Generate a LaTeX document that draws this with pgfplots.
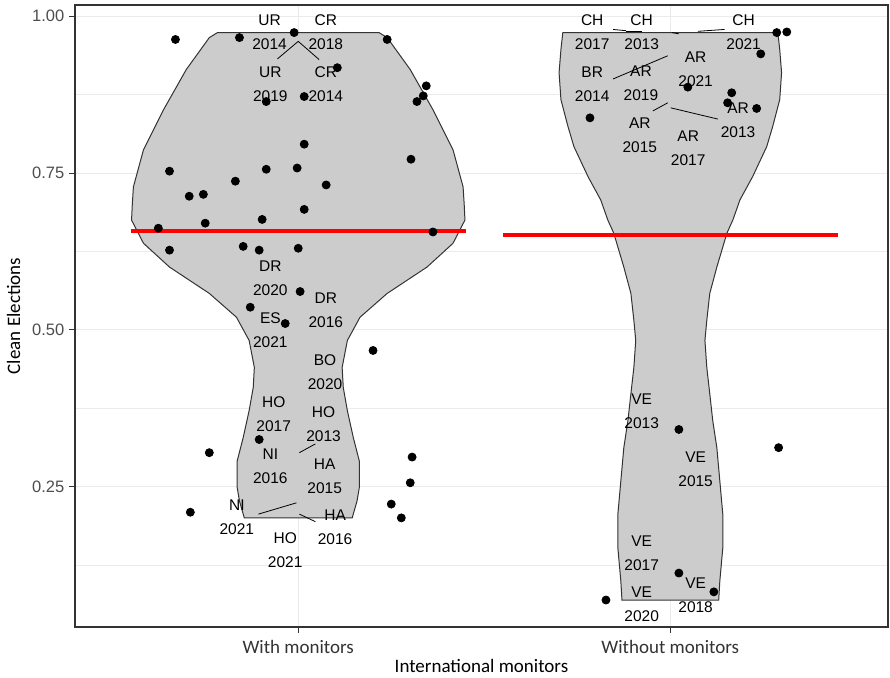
\documentclass[border=0pt]{standalone}
\usepackage{pgfplots}
\pgfplotsset{compat=1.18}
\usepackage{fontspec}
\setmainfont{Liberation Sans}
\newfontfamily\calib{Carlito}
\definecolor{gridc}{HTML}{EBEBEB}
\definecolor{txtc}{HTML}{4D4D4D}
\definecolor{framec}{HTML}{333333}
\definecolor{violinc}{HTML}{CCCCCC}
\tikzset{lbl/.style={font=\fontsize{7.75}{12}\selectfont, align=center, inner sep=0pt, text=black}}
\begin{document}
\begin{tikzpicture}
\begin{axis}[name=ax, scale only axis, width=406.5pt, height=311pt,
  xmin=0.4, xmax=2.585, ymin=0.026, ymax=1.018,
  xtick={1,2}, xticklabels={With monitors, Without monitors},
  ytick={0.25,0.5,0.75,1}, minor ytick={0.125,0.375,0.625,0.875},
  /pgf/number format/assume math mode=true,
  yticklabel style={/pgf/number format/fixed, /pgf/number format/fixed zerofill, /pgf/number format/precision=2,
    font=\fontsize{8.25}{10}\selectfont, text=txtc, inner sep=0pt, xshift=-2.2pt},
  xticklabel style={font=\calib\fontsize{9.5}{11}\selectfont, text=framec, inner sep=0pt, anchor=north, yshift=-3.5pt},
  xmajorgrids, ymajorgrids, yminorgrids,
  major grid style={gridc, line width=0.5pt},
  minor grid style={gridc, line width=0.3pt},
  axis line style={framec, line width=0.6pt},
  tick align=outside, tick pos=left, major tick length=3pt, minor tick length=0pt,
  tick style={framec, line width=0.5pt},
  clip=false,
]
% violins
\addplot[fill=violinc, draw=framec, line width=0.5pt] coordinates {
(1.217,0.974) (1.239,0.966) (1.301,0.915) (1.362,0.851) (1.416,0.787) (1.443,0.728)
(1.446,0.700) (1.448,0.675) (1.416,0.638) (1.346,0.600) (1.239,0.558) (1.166,0.520)
(1.132,0.483) (1.118,0.440) (1.121,0.408) (1.132,0.371) (1.148,0.328) (1.164,0.291)
(1.164,0.248) (1.158,0.227) (1.145,0.200)
(0.855,0.200) (0.842,0.227) (0.836,0.248) (0.836,0.291) (0.852,0.328) (0.868,0.371)
(0.879,0.408) (0.882,0.440) (0.868,0.483) (0.834,0.520) (0.761,0.558) (0.654,0.600)
(0.584,0.638) (0.552,0.675) (0.554,0.700) (0.557,0.728) (0.584,0.787) (0.638,0.851)
(0.699,0.915) (0.761,0.966) (0.783,0.974)
} --cycle;
\addplot[fill=violinc, draw=framec, line width=0.5pt] coordinates {
(2.289,0.974) (2.294,0.947) (2.299,0.910) (2.294,0.867) (2.275,0.824) (2.259,0.792)
(2.221,0.744) (2.187,0.707) (2.168,0.675) (2.152,0.654) (2.125,0.600) (2.106,0.558)
(2.098,0.515) (2.093,0.483) (2.098,0.440) (2.106,0.398) (2.114,0.355) (2.125,0.312)
(2.133,0.259) (2.141,0.206) (2.141,0.152) (2.133,0.099) (2.130,0.069)
(1.870,0.069) (1.867,0.099) (1.859,0.152) (1.859,0.206) (1.867,0.259) (1.875,0.312)
(1.886,0.355) (1.894,0.398) (1.902,0.440) (1.907,0.483) (1.902,0.515) (1.894,0.558)
(1.875,0.600) (1.848,0.654) (1.832,0.675) (1.813,0.707) (1.779,0.744) (1.741,0.792)
(1.725,0.824) (1.706,0.867) (1.701,0.910) (1.706,0.947) (1.711,0.974)
} --cycle;
% points
\addplot[only marks, mark=*, mark size=2pt, black] coordinates {
(0.670,0.963) (0.842,0.966) (0.989,0.974) (1.239,0.963) (1.105,0.918) (1.344,0.889)
(1.336,0.873) (1.319,0.864) (0.914,0.864) (1.016,0.872) (1.016,0.796) (1.303,0.772)
(0.654,0.753) (0.914,0.756) (0.997,0.758) (0.831,0.737) (1.075,0.731) (0.707,0.713)
(0.745,0.716) (1.016,0.692) (0.903,0.676) (0.750,0.670) (0.624,0.662) (1.362,0.656)
(0.654,0.627) (0.852,0.633) (0.895,0.627) (1.000,0.630) (1.005,0.561) (0.871,0.536)
(0.965,0.510) (1.201,0.467) (0.895,0.325) (0.761,0.304) (1.306,0.297) (1.301,0.256)
(1.250,0.222) (0.710,0.209) (1.277,0.200)
(2.286,0.974) (2.313,0.975) (2.243,0.940) (2.047,0.887) (2.165,0.878) (2.154,0.862)
(2.232,0.853) (1.784,0.838) (2.023,0.341) (2.291,0.312) (2.023,0.112) (2.117,0.082)
(1.827,0.069)
};
% mean lines
\addplot[red, line width=1.9pt] coordinates {(0.55,0.657) (1.45,0.657)};
\addplot[red, line width=1.9pt] coordinates {(1.55,0.651) (2.45,0.651)};
% label segments
\addplot[black, line width=0.4pt] coordinates {(0.944,0.932) (1.000,0.960) (1.056,0.931)};
\addplot[black, line width=0.4pt] coordinates {(1.003,0.304) (1.046,0.318)};
\addplot[black, line width=0.4pt] coordinates {(0.893,0.206) (0.995,0.224)};
\addplot[black, line width=0.4pt] coordinates {(1.003,0.206) (1.046,0.194)};
\addplot[black, line width=0.4pt] coordinates {(1.846,0.900) (1.993,0.937)};
\addplot[black, line width=0.4pt] coordinates {(1.953,0.849) (1.993,0.862)};
\addplot[black, line width=0.4pt] coordinates {(2.001,0.854) (2.128,0.836)};
\addplot[black, line width=0.4pt] coordinates {(1.846,0.979) (1.881,0.977)};
\addplot[black, line width=0.4pt] coordinates {(1.881,0.976) (1.923,0.976)};
\addplot[black, line width=0.4pt] coordinates {(2.004,0.974) (2.023,0.972)};
\addplot[black, line width=0.4pt] coordinates {(2.074,0.976) (2.146,0.979)};
% labels
\node[lbl] at (axis cs:0.923,0.975) {UR\\2014};
\node[lbl] at (axis cs:1.074,0.975) {CR\\2018};
\node[lbl] at (axis cs:0.925,0.892) {UR\\2019};
\node[lbl] at (axis cs:1.074,0.892) {CR\\2014};
\node[lbl] at (axis cs:0.925,0.582) {DR\\2020};
\node[lbl] at (axis cs:1.074,0.531) {DR\\2016};
\node[lbl] at (axis cs:0.925,0.499) {ES\\2021};
\node[lbl] at (axis cs:1.072,0.433) {BO\\2020};
\node[lbl] at (axis cs:0.934,0.365) {HO\\2017};
\node[lbl] at (axis cs:1.068,0.349) {HO\\2013};
\node[lbl] at (axis cs:0.925,0.283) {NI\\2016};
\node[lbl] at (axis cs:1.071,0.267) {HA\\2015};
\node[lbl] at (axis cs:0.835,0.201) {NI\\2021};
\node[lbl] at (axis cs:1.099,0.185) {HA\\2016};
\node[lbl] at (axis cs:0.965,0.148) {HO\\2021};
\node[lbl] at (axis cs:1.790,0.975) {CH\\2017};
\node[lbl] at (axis cs:1.923,0.975) {CH\\2013};
\node[lbl] at (axis cs:2.197,0.975) {CH\\2021};
\node[lbl] at (axis cs:1.790,0.892) {BR\\2014};
\node[lbl] at (axis cs:1.921,0.893) {AR\\2019};
\node[lbl] at (axis cs:2.068,0.916) {AR\\2021};
\node[lbl] at (axis cs:2.182,0.834) {AR\\2013};
\node[lbl] at (axis cs:1.918,0.810) {AR\\2015};
\node[lbl] at (axis cs:2.048,0.789) {AR\\2017};
\node[lbl] at (axis cs:1.923,0.370) {VE\\2013};
\node[lbl] at (axis cs:2.068,0.277) {VE\\2015};
\node[lbl] at (axis cs:1.923,0.143) {VE\\2017};
\node[lbl] at (axis cs:1.923,0.062) {VE\\2020};
\node[lbl] at (axis cs:2.068,0.077) {VE\\2018};
\end{axis}
\node[font=\calib\fontsize{9.5}{11}\selectfont] at ([yshift=-19.5pt]ax.south) {International monitors};
\node[rotate=90, font=\calib\fontsize{9.5}{11}\selectfont] at ([xshift=-30.75pt]ax.west) {Clean Elections};
\pgfresetboundingbox
\path[use as bounding box] ([xshift=-37.5pt, yshift=-25.5pt]ax.south west) rectangle ([xshift=1pt, yshift=2.5pt]ax.north east);
\end{tikzpicture}
\end{document}
